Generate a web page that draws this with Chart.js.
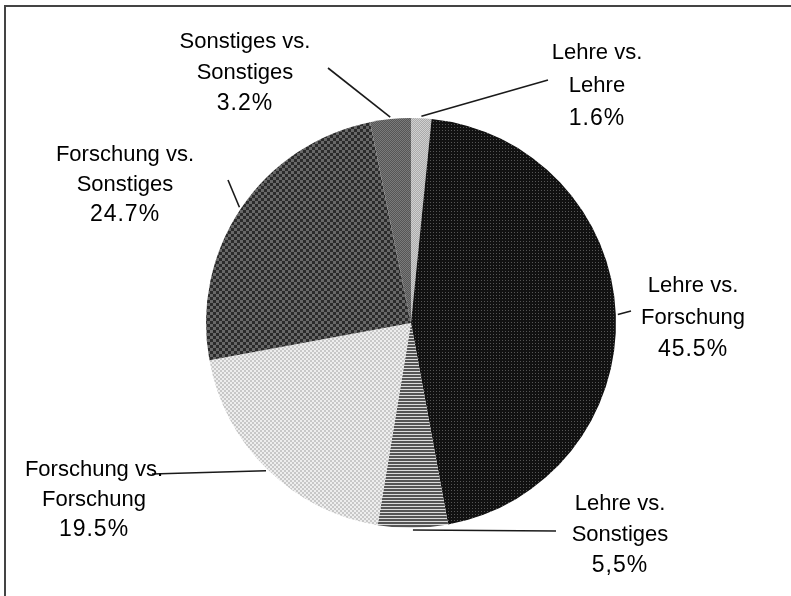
<!DOCTYPE html>
<html>
<head>
<meta charset="utf-8">
<script src="https://cdn.jsdelivr.net/npm/chart.js@4.4.1/dist/chart.umd.min.js"></script>
<style>
  html, body { margin: 0; padding: 0; background: #fff; }
  #wrap { position: relative; width: 791px; height: 596px; }
  #frame { position: absolute; left: 4px; top: 5px; right: -2px; bottom: -2px;
           border-top: 2px solid #444; border-left: 2px solid #444; }
</style>
</head>
<body>
<div id="wrap">
  <div id="frame"></div>
  <canvas id="pie" width="791" height="596"></canvas>
</div>
<script>
// categories and values (percent), clockwise from 12 o'clock
var categories = [
    ['Lehre vs.', 'Lehre'],
    ['Lehre vs.', 'Forschung'],
    ['Lehre vs.', 'Sonstiges'],
    ['Forschung vs.', 'Forschung'],
    ['Forschung vs.', 'Sonstiges'],
    ['Sonstiges vs.', 'Sonstiges']
];
var shares = [1.6, 45.5, 5.5, 19.5, 24.7, 3.2];
var shareLabels = ['1.6%', '45.5%', '5,5%', '19.5%', '24.7%', '3.2%'];

// small tile patterns to imitate the print hatching
function makePattern( w, h, draw ) {
    var c = document.createElement( 'canvas' );
    c.width = w; c.height = h;
    draw( c.getContext( '2d' ) );
    return c.getContext( '2d' ).createPattern( c, 'repeat' );
}
function checker( a, b, s ) {
    return makePattern( s * 2, s * 2, function( g ) {
        g.fillStyle = a; g.fillRect( 0, 0, s * 2, s * 2 );
        g.fillStyle = b; g.fillRect( 0, 0, s, s ); g.fillRect( s, s, s, s );
    } );
}

var fills = [
    checker( '#aaaaaa', '#d0d0d0', 1 ),
    makePattern( 3, 3, function( g ) {
        g.fillStyle = '#111'; g.fillRect( 0, 0, 3, 3 );
        g.fillStyle = '#555'; g.fillRect( 1, 1, 1, 1 );
    } ),
    makePattern( 2, 3, function( g ) {
        g.fillStyle = '#dcdcdc'; g.fillRect( 0, 0, 2, 3 );
        g.fillStyle = '#555'; g.fillRect( 0, 0, 2, 2 );
    } ),
    checker( '#c8c8c8', '#eeeeee', 2 ),
    checker( '#2b2b2b', '#686868', 3 ),
    checker( '#555555', '#7a7a7a', 1 )
];

// label anchor (centre of first text line) and leader end per slice
var labelPos = [
    { x: 597, y: 53, gap: 33, lx: 548, ly: 80 },
    { x: 693, y: 286, gap: 32, lx: 631, ly: 311 },
    { x: 620, y: 504, gap: 31, lx: 556, ly: 531 },
    { x: 94, y: 470, gap: 30, lx: 152, ly: 474 },
    { x: 125, y: 155, gap: 30, lx: 228, ly: 180 },
    { x: 245, y: 42, gap: 31, lx: 328, ly: 68 }
];

var labelPlugin = {
    id: 'sliceLabels',
    afterDatasetsDraw: function( chart ) {
        var ctx = chart.ctx;
        var meta = chart.getDatasetMeta( 0 );
        ctx.save();
        meta.data.forEach( function( arc, i ) {
            var p = arc.getProps( [ 'x', 'y', 'startAngle', 'endAngle', 'outerRadius' ], true );
            var mid = ( p.startAngle + p.endAngle ) / 2;
            var sx = p.x + Math.cos( mid ) * ( p.outerRadius + 2 );
            var sy = p.y + Math.sin( mid ) * ( p.outerRadius + 2 );
            var lp = labelPos[i];
            ctx.strokeStyle = '#1a1a1a';
            ctx.lineWidth = 1.6;
            ctx.beginPath();
            ctx.moveTo( sx, sy );
            ctx.lineTo( lp.lx, lp.ly );
            ctx.stroke();

            ctx.fillStyle = '#000';
            ctx.textAlign = 'center';
            ctx.textBaseline = 'middle';
            ctx.font = '22px "Liberation Sans", Arial, sans-serif';
            ctx.letterSpacing = '0px';
            categories[i].forEach( function( t, k ) {
                ctx.fillText( t, lp.x, lp.y + k * lp.gap );
            } );
            ctx.font = '23px "Liberation Sans", Arial, sans-serif';
            ctx.letterSpacing = '1px';
            ctx.fillText( shareLabels[i], lp.x, lp.y + 2 * lp.gap );
        } );
        ctx.restore();
    }
};

new Chart( document.getElementById( 'pie' ), {
    type: 'pie',
    data: {
        labels: categories.map( function( c ) { return c.join( ' ' ); } ),
        datasets: [ {
            data: shares,
            backgroundColor: fills,
            borderWidth: 0
        } ]
    },
    options: {
        responsive: false,
        animation: false,
        layout: {
            padding: { left: 206, right: 175, top: 118, bottom: 68 }
        },
        plugins: {
            legend: { display: false },
            tooltip: { enabled: false }
        }
    },
    plugins: [ labelPlugin ]
} );
</script>
</body>
</html>
